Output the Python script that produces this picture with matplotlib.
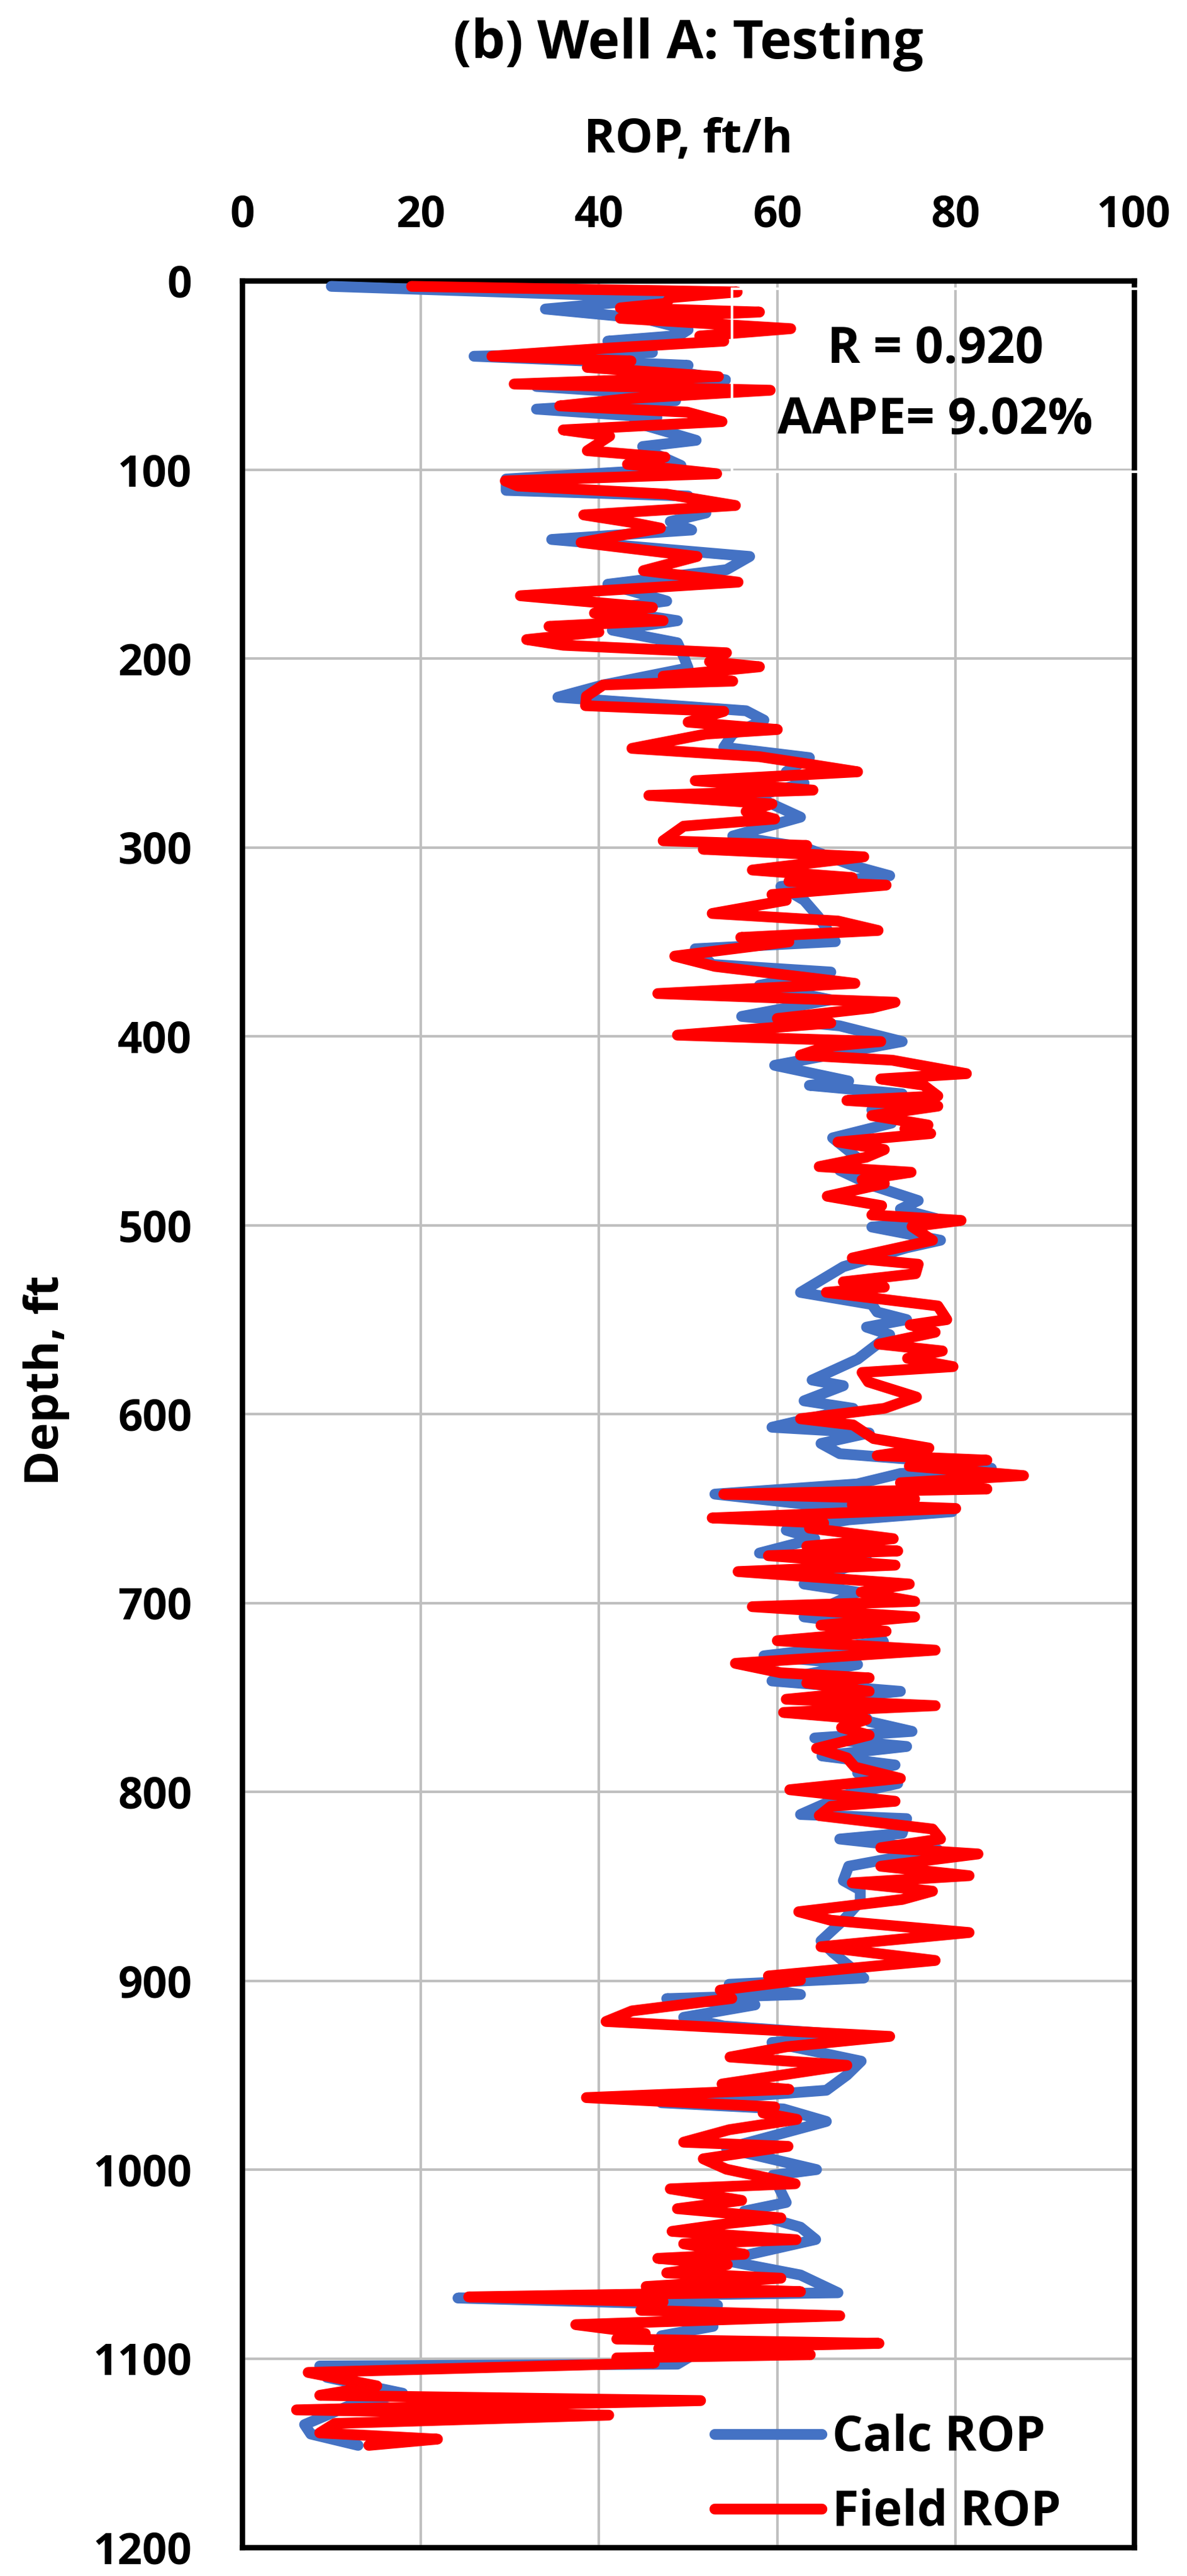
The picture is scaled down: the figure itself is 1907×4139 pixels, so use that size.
import matplotlib
matplotlib.use("Agg")
import matplotlib.pyplot as plt
from matplotlib.patches import Rectangle

plt.rcParams['font.family'] = ['Open Sans', 'DejaVu Sans']
plt.rcParams['font.weight'] = 'bold'

# ---------------- data ----------------
field_depth = [3, 6, 9, 12, 14.4, 16.6, 19.9, 25.4, 29.3, 32, 36, 40, 42.5, 45.9, 50.8, 54.7, 58, 62.4,
               66.3, 69.6, 74.6, 79, 82.3, 90, 93.4, 97.2, 102.2, 106, 108.7, 113, 119, 124, 128, 131,
               138.6, 146, 153.5, 159.6, 166.8, 173, 176, 180, 183, 186, 190, 193, 197, 201.7, 204.4,
               209.4, 212, 214, 220, 225, 228, 233.7, 237.6, 240, 247.6, 252, 256, 260, 264.7, 269.7,
               272.5, 277, 281, 285, 288.8, 296.5, 299, 301, 305, 312, 316, 318, 320, 325, 328, 335,
               339, 344, 347.7, 350, 357.6, 363, 372, 377.4, 382, 385, 390.6, 393, 399.4, 402.8, 405.5,
               410, 412.7, 419.8, 422.6, 425.9, 431.6, 434, 437, 442, 447, 449, 451.5, 456, 460, 464,
               469, 472, 476, 478, 484.7, 489.7, 494.6, 497.5, 500.8, 508, 517.4, 520.7, 525.7, 530,
               532.8, 535.6, 542.8, 550, 552.8, 556.7, 563, 566.6, 570.5, 574.9, 578, 583, 591, 597,
               602.5, 605.8, 613, 618, 622, 624.4, 627.6, 632.6, 636.4, 639.7, 642.4, 645, 648, 650,
               655, 657.7, 660.4, 666, 670, 672.5, 675, 680, 683.4, 690, 694.3, 699.2, 702, 707.4,
               711.8, 715, 720, 725, 732, 737, 739.7, 742.4, 746.8, 751, 754.4, 758, 761.7, 766, 770,
               777, 782, 786.9, 792.9, 798.9, 805, 807.7, 812.6, 819.7, 825, 829.6, 832.9, 839.4,
               844.4, 848.2, 852.6, 857, 863.5, 868, 874.5, 882, 889.3, 897.5, 899.7, 905, 909.4, 916,
               921.6, 929.5, 935, 940.4, 944.8, 950.3, 954.7, 957.5, 961.9, 966.8, 970, 973.4, 978.9,
               985.5, 987.7, 994.3, 999.8, 1007.5, 1010.2, 1016.3, 1020.7, 1025.6, 1028.4, 1032.7,
               1037.1, 1039.3, 1044.8, 1047, 1050.3, 1054.7, 1057.5, 1061.9, 1064.6, 1067.4, 1070,
               1074.5, 1077.4, 1082.1, 1086.8, 1089.7, 1092, 1094.7, 1098, 1099.7, 1102.4, 1107.4,
               1114.5, 1119.5, 1122.3, 1127.2, 1130, 1134.4, 1139.4, 1142.7, 1146]
field_rop = [19, 55.5, 48, 47.5, 42.4, 58, 42.4, 61.5, 51.3, 54, 40, 28, 43.6, 38.7, 53.4, 30.5, 59.2, 43.4,
             35.6, 49.9, 53.8, 36, 41.2, 38.7, 47.4, 43.2, 53.2, 29.5, 30.9, 47.6, 55.3, 38.3, 43.7, 46.9,
             38, 51, 45, 55.6, 31.2, 46, 39.5, 47.2, 34.4, 40, 31.9, 36, 54.3, 52.4, 58,
             47.2, 55, 40.5, 38.6, 38.5, 54, 50, 60, 52, 43.7, 58, 63.6, 69, 50.8, 64,
             45.6, 59.4, 56.5, 59.7, 49.5, 47.2, 63.3, 51.7, 69.7, 57.2, 68.4, 61.3, 72.2, 59.4, 61, 52.7,
             66.8, 71.3, 55.9, 61.3, 48.5, 53, 68.7, 46.6, 73.2, 70.6, 60, 66, 48.8, 71.6, 65.5,
             62.6, 72.9, 81.2, 71.6, 76.4, 78, 67.8, 78, 70.6, 76.9, 74.3, 77.2, 66.8, 72, 70,
             64.7, 75, 69.5, 72, 65.6, 71.7, 70.6, 80.6, 75.1, 77.4, 68.4, 75.8, 75.5, 67.4,
             72, 65.5, 78, 79, 74.9, 77.7, 71.4, 78.5, 74.6, 79.7, 69.5, 70.2, 75.6, 72,
             62.6, 68.5, 70.8, 77, 71.2, 83.5, 74.8, 87.6, 73.8, 83.5, 54, 75.4, 68.4, 80,
             52.7, 65.2, 63.6, 73, 63.3, 73.5, 59, 73.2, 55.6, 74.8, 69.4, 75.4, 57.2, 75.4,
             64.9, 72.2, 60, 77.7, 55.3, 60.4, 70.3, 63.3, 70.3, 61, 77.7, 60.7, 70, 67.2, 70.3,
             64.4, 67.8, 68.7, 73.8, 61.4, 73.2, 66, 64.7, 77.4, 78.3, 71.6, 82.5, 71.6,
             81.5, 68.4, 77.4, 74, 62.4, 66, 81.5, 64.9, 77.7, 59, 62.6, 53.6, 54.9, 43.7,
             40.8, 72.6, 61, 54.7, 67.8, 60, 53.8, 61.3, 38.6, 59.7, 58.4, 62.2, 54.6,
             49.5, 61.2, 51.7, 54.3, 62, 48, 56, 48.8, 60.4, 54.7, 48.2,
             62.1, 49.5, 56.3, 46.6, 54.4, 47.6, 60.4, 45.3, 62.6, 25.4, 47.2,
             44.7, 67, 37.4, 45.2, 42, 71.4, 46.7, 63.7, 42, 46.2, 7.4,
             15.1, 8.7, 51.4, 6.1, 41.1, 10.4, 8.7, 21.9, 14.2]

calc_depth = [3, 9, 15, 20, 26, 29, 32, 35, 38, 40, 44.8, 47, 52.5, 56, 60, 63.5, 68, 72.4, 75, 84.5,
              87.8, 91, 97.8, 100, 105, 111, 114, 119, 123, 127.5, 132, 137, 146, 153, 160.7, 169.6,
              174, 180, 185, 191.7, 199, 205, 214, 220.5, 227.7, 232.6, 240, 247, 252.5, 260, 266,
              273, 284, 294, 300, 310, 315, 320.7, 328, 336.7, 349.9, 353.7, 362, 366, 373, 380.7,
              389.5, 394.5, 402.8, 415.4, 423.7, 426, 430.5, 439, 446, 453.8, 463.7, 471, 479, 487,
              491.5, 498, 501, 508, 512, 522, 535.6, 542, 546, 550, 554, 558, 571, 582, 585, 593,
              597, 607, 610, 615.6, 621, 625, 628.7, 631.5, 637, 642.4, 648, 651.7, 656, 661.5, 666,
              673.6, 677, 690, 694.3, 707.4, 711.8, 720.5, 728, 732.6, 741.3, 746.8, 751, 757,
              762.8, 768, 771.5, 776, 781, 785.8, 790, 795.6, 802, 812, 814.2, 822, 825, 830.7,
              839.4, 847, 852, 858, 868, 878.9, 885, 898.6, 901.9, 907.3, 909.5, 912.8, 919.4,
              924, 929, 932.7, 942.6, 950, 958, 964.6, 967.9, 974.5, 988.8, 1000, 1003, 1017.4,
              1022, 1030.5, 1037, 1048, 1055.8, 1065.2, 1068, 1071.8, 1078, 1083, 1088, 1094,
              1103, 1104, 1110, 1118.4, 1125, 1135, 1140, 1146]
calc_rop = [10, 48, 34, 45, 50, 49, 41, 45, 46, 26, 50, 47.4, 54.2, 33, 46, 48.6, 33, 46.5, 44, 50.9,
            44.9, 46, 49.2, 47, 29.6, 29.6, 50, 51, 52, 48, 50.4, 34.7, 56.9, 54.3, 41, 47.6,
            40.5, 48.8, 41.5, 48.8, 49.5, 50, 40.5, 35.4, 56.5, 58.5, 55, 54, 63.6, 61, 63,
            57.5, 62.6, 55, 63, 68.7, 72.6, 60.4, 63, 64.6, 66.5, 50.8, 52.7, 66, 58, 66,
            56, 67, 74, 59.7, 68, 63.6, 74, 70.6, 72.8, 66.2, 68.8, 67, 70.6, 75.8,
            73.8, 79, 70.6, 78.3, 74.5, 67.4, 62.6, 70.6, 71.2, 74.5, 70, 72.6, 69, 63.9, 67.4, 63,
            68.5, 59.4, 70.3, 64.9, 67, 77.7, 84, 73.8, 69, 53, 63.6, 79.6, 68, 61, 64.2,
            58, 70, 63, 69, 63, 70.6, 71.9, 58.5, 69, 59.4, 73.8, 65.5, 69.3,
            70.3, 75.1, 64.2, 74.5, 65, 73.2, 69, 73.5, 67.4, 62.6, 74.5, 74, 67, 78,
            68, 67.4, 69.3, 69.3, 67.4, 64.9, 66.2, 69.7, 54.6, 62.6, 47.6, 57.5, 49.5,
            54, 68.7, 59.4, 69.4, 67.8, 65.5, 47, 60.7, 65.5, 54.3, 64.4, 59.5, 61,
            56.3, 62.6, 64.3, 54, 62.6, 66.8, 24.2, 53.3, 52.5, 52.8, 47, 52,
            48.8, 8.7, 9.5, 18, 12, 7, 7.7, 13]

rop_ticks = [0, 20, 40, 60, 80, 100]
depth_ticks = [0, 100, 200, 300, 400, 500, 600, 700, 800, 900, 1000, 1100, 1200]

# ---------------- figure ----------------
W, H = 1908, 4139
fig = plt.figure(figsize=(W / 100, H / 100), dpi=100)
L, R, T, B = 389, 1822, 451, 4093
ax = fig.add_axes([L / W, 1 - B / H, (R - L) / W, (B - T) / H])

ax.plot(calc_rop, calc_depth, color='#4472C4', lw=12.5, solid_joinstyle='round',
        solid_capstyle='round', label='Calc ROP', zorder=3)
ax.plot(field_rop, field_depth, color='#FF0000', lw=12.5, solid_joinstyle='round',
        solid_capstyle='round', label='Field ROP', zorder=4)

ax.set_xlim(0, 100)
ax.set_ylim(1200, 0)
ax.set_xticks(rop_ticks)
ax.set_yticks(depth_ticks)
ax.xaxis.tick_top()
ax.xaxis.set_label_position('top')
ax.tick_params(axis='x', length=0, pad=50, labelsize=50)
ax.tick_params(axis='y', length=0, pad=58, labelsize=50)
for lab in ax.get_xticklabels() + ax.get_yticklabels():
    lab.set_fontweight('bold')

ax.grid(True, color='#BFBFBF', lw=3, zorder=0)
ax.set_axisbelow(True)
for s in ax.spines.values():
    s.set_linewidth(6.2)
    s.set_color('black')

ax.set_xlabel('ROP, ft/h', fontsize=55, fontweight='bold')
ax.xaxis.label.set_verticalalignment('baseline')
ax.xaxis.set_label_coords(0.5, 1.0566)
ax.set_ylabel('Depth, ft', fontsize=55, fontweight='bold')
ax.yaxis.set_label_coords(-0.193, 0.5148)
ax.set_title('(b) Well A: Testing', fontsize=62, fontweight='bold', y=1.0958)

# statistics box (white outline, as in the reference)
ax.add_patch(Rectangle((54.9, 4.4), 46.0, 96.6, fill=False, ec='white', lw=3,
                       zorder=6, clip_on=False))
ax.text(77.7, 43.5, 'R = 0.920', ha='center', va='baseline', fontsize=58,
        fontweight='bold', zorder=7)
ax.text(77.7, 81, 'AAPE= 9.02%', ha='center', va='baseline', fontsize=58,
        fontweight='bold', zorder=7)

leg = ax.legend(loc='upper left', bbox_to_anchor=(0.530, 0.059), frameon=False,
                fontsize=56, handlelength=2.2, handletextpad=0.22, labelspacing=0.53,
                borderpad=0, borderaxespad=0)
for t in leg.get_texts():
    t.set_fontweight('bold')

fig.savefig('out.png', dpi=100, facecolor='white')
